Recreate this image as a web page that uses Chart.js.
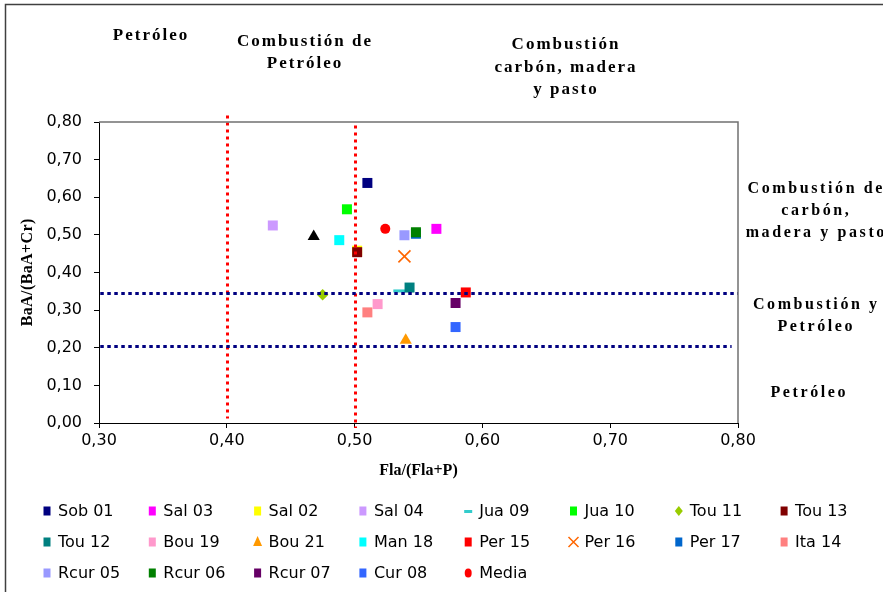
<!DOCTYPE html>
<html>
<head>
<meta charset="utf-8">
<script src="https://cdn.jsdelivr.net/npm/chart.js@4.4.1/dist/chart.umd.min.js"></script>
<style>
  html, body { margin: 0; padding: 0; background: #ffffff; }
  #wrap { width: 883px; height: 592px; position: relative; }
  canvas { display: block; }
</style>
</head>
<body>
<div id="wrap"><canvas id="chart" width="883" height="592"></canvas></div>
<script>
// Sample names in legend order
const sampleNames = ['Sob 01', 'Sal 03', 'Sal 02', 'Sal 04', 'Jua 09', 'Jua 10', 'Tou 11', 'Tou 13',
                     'Tou 12', 'Bou 19', 'Bou 21', 'Man 18', 'Per 15', 'Per 16', 'Per 17', 'Ita 14',
                     'Rcur 05', 'Rcur 06', 'Rcur 07', 'Cur 08', 'Media'];
// Fla/(Fla+P) for each sample
const flaRatio = [0.510, 0.564, 0.502, 0.436, 0.535, 0.494, 0.475, 0.502,
                  0.543, 0.518, 0.540, 0.488, 0.587, 0.539, 0.548, 0.510,
                  0.539, 0.548, 0.579, 0.579, 0.524];
// BaA/(BaA+Cr) for each sample
const baaRatio = [0.638, 0.516, 0.458, 0.525, 0.351, 0.568, 0.341, 0.454,
                  0.360, 0.316, 0.220, 0.486, 0.347, 0.443, 0.503, 0.294,
                  0.499, 0.507, 0.319, 0.255, 0.516];
// Extra point plotted without a legend entry
const extraFla = [0.468];
const extraBaa = [0.496];

// Diagnostic limits
const flaLimits = [0.40, 0.50];
const baaLimits = [0.345, 0.205];

// Axis tick labels
const xTickLabels = ['0,30', '0,40', '0,50', '0,60', '0,70', '0,80'];
const yTickLabels = ['0,00', '0,10', '0,20', '0,30', '0,40', '0,50', '0,60', '0,70', '0,80'];

// Marker look per sample
const sampleColors = ['#000080', '#FF00FF', '#FFFF00', '#CC99FF', '#33CCCC', '#00FF00', '#99CC00', '#800000',
                      '#008080', '#FF99CC', '#FF9900', '#00FFFF', '#FF0000', '#FF6600', '#0066CC', '#FF8080',
                      '#9999FF', '#008000', '#660066', '#3366FF', '#FF0000'];
const sampleShapes = ['rect', 'rect', 'rect', 'rect', 'line', 'rect', 'rectRot', 'rect',
                      'rect', 'rect', 'triangle', 'rect', 'rect', 'crossRot', 'rect', 'rect',
                      'rect', 'rect', 'rect', 'rect', 'circle'];

const shapeRadius = { rect: 7.07, line: 6, rectRot: 5.8, triangle: 7, crossRot: 8.5, circle: 5 };

const datasets = sampleNames.map((name, i) => {
  const shape = sampleShapes[i];
  const stroked = (shape === 'line' || shape === 'crossRot');
  return {
    label: name,
    data: [{ x: flaRatio[i], y: baaRatio[i] }],
    pointStyle: shape,
    pointRadius: shapeRadius[shape],
    backgroundColor: sampleColors[i],
    borderColor: sampleColors[i],
    borderWidth: shape === 'line' ? 3 : (stroked ? 1.6 : 0),
    showLine: false,
    order: -i
  };
});
datasets.push({
  label: '',
  data: extraFla.map((v, i) => ({ x: v, y: extraBaa[i] })),
  pointStyle: 'triangle',
  pointRadius: 7,
  backgroundColor: '#000000',
  borderColor: '#000000',
  borderWidth: 0,
  showLine: false,
  order: -100
});

const serif = '"Liberation Serif", "Times New Roman", serif';
const sans = '"DejaVu Sans", Verdana, sans-serif';

function drawSpaced(ctx, text, x, y, spacing) {
  if ('letterSpacing' in ctx) {
    ctx.letterSpacing = spacing + 'px';
    ctx.fillText(text, x + spacing / 2, y);
    ctx.letterSpacing = '0px';
  } else {
    ctx.fillText(text, x, y);
  }
}

// Zone captions around the plot
const zoneCaptions = [
  { lines: ['Petróleo'], x: 150, y: 36, lh: 22, size: 17, sp: 2.0 },
  { lines: ['Combustión de', 'Petróleo'], x: 304, y: 42, lh: 22, size: 17, sp: 2.0 },
  { lines: ['Combustión', 'carbón, madera', 'y pasto'], x: 565, y: 45, lh: 22.5, size: 17, sp: 2.0 },
  { lines: ['Combustión de', 'carbón,', 'madera y pasto'], x: 815, y: 189, lh: 22, size: 16, sp: 2.6 },
  { lines: ['Combustión y', 'Petróleo'], x: 815, y: 305, lh: 22, size: 16, sp: 2.6 },
  { lines: ['Petróleo'], x: 808, y: 393, lh: 22, size: 16, sp: 2.6 }
];

function drawLegendMarker(ctx, shape, color, x, y) {
  ctx.save();
  ctx.fillStyle = color;
  ctx.strokeStyle = color;
  ctx.beginPath();
  if (shape === 'rect') {
    ctx.fillRect(x - 3.5, y - 4.5, 7, 9);
  } else if (shape === 'line') {
    ctx.fillRect(x - 4, y - 1, 8, 3);
  } else if (shape === 'rectRot') {
    ctx.moveTo(x, y - 5); ctx.lineTo(x + 4, y); ctx.lineTo(x, y + 5); ctx.lineTo(x - 4, y);
    ctx.closePath(); ctx.fill();
  } else if (shape === 'triangle') {
    ctx.moveTo(x, y - 6); ctx.lineTo(x + 4.5, y + 4); ctx.lineTo(x - 4.5, y + 4);
    ctx.closePath(); ctx.fill();
  } else if (shape === 'crossRot') {
    ctx.lineWidth = 1.5;
    ctx.moveTo(x - 5, y - 5); ctx.lineTo(x + 5, y + 5);
    ctx.moveTo(x + 5, y - 5); ctx.lineTo(x - 5, y + 5);
    ctx.stroke();
  } else if (shape === 'circle') {
    ctx.ellipse(x, y, 3.5, 4.5, 0, 0, Math.PI * 2);
    ctx.fill();
  }
  ctx.restore();
}

const decorPlugin = {
  id: 'decor',
  beforeDraw(chart) {
    const ctx = chart.ctx;
    ctx.save();
    ctx.fillStyle = '#ffffff';
    ctx.fillRect(0, 0, chart.width, chart.height);
    // outer frame
    ctx.strokeStyle = '#404040';
    ctx.lineWidth = 1.5;
    ctx.beginPath();
    ctx.moveTo(5.5, chart.height + 2);
    ctx.lineTo(5.5, 4.5);
    ctx.lineTo(chart.width + 2, 4.5);
    ctx.stroke();
    ctx.restore();
  },
  afterDatasetsDraw(chart) {
    const ctx = chart.ctx;
    const xs = chart.scales.x, ys = chart.scales.y;
    ctx.save();
    // vertical limits on Fla/(Fla+P)
    ctx.strokeStyle = '#FF0000';
    ctx.lineWidth = 3;
    ctx.setLineDash([3, 4]);
    const vExt = [[0.817, 0.012], [0.791, -0.013]];
    flaLimits.forEach((v, i) => {
      const px = Math.round(xs.getPixelForValue(v)) + 0.5;
      ctx.beginPath();
      ctx.moveTo(px, ys.getPixelForValue(vExt[i][0]));
      ctx.lineTo(px, ys.getPixelForValue(vExt[i][1]));
      ctx.stroke();
    });
    // horizontal limits on BaA/(BaA+Cr)
    ctx.strokeStyle = '#000080';
    ctx.setLineDash([3.5, 3.5]);
    const hExt = [[0.301, 0.80], [0.301, 0.795]];
    baaLimits.forEach((v, i) => {
      const py = Math.round(ys.getPixelForValue(v)) + 0.5;
      ctx.beginPath();
      ctx.moveTo(xs.getPixelForValue(hExt[i][0]), py);
      ctx.lineTo(xs.getPixelForValue(hExt[i][1]), py);
      ctx.stroke();
    });
    ctx.restore();
  },
  afterDraw(chart) {
    const ctx = chart.ctx;
    const a = chart.chartArea;
    ctx.save();
    // plot area top and right edges
    ctx.strokeStyle = '#707070';
    ctx.lineWidth = 1.5;
    ctx.beginPath();
    ctx.moveTo(a.left, a.top);
    ctx.lineTo(a.right, a.top);
    ctx.lineTo(a.right, a.bottom);
    ctx.stroke();

    // axis titles
    ctx.fillStyle = '#000000';
    ctx.font = 'bold 16px ' + serif;
    ctx.textAlign = 'center';
    ctx.textBaseline = 'middle';
    ctx.fillText('Fla/(Fla+P)', (a.left + a.right) / 2, 471);
    ctx.save();
    ctx.translate(28, (a.top + a.bottom) / 2);
    ctx.rotate(-Math.PI / 2);
    drawSpaced(ctx, 'BaA/(BaA+Cr)', 0, 0, 0.4);
    ctx.restore();

    // zone captions
    zoneCaptions.forEach(c => {
      ctx.font = 'bold ' + c.size + 'px ' + serif;
      c.lines.forEach((t, k) => drawSpaced(ctx, t, c.x, c.y + k * c.lh, c.sp));
    });

    // legend grid
    ctx.font = '16px ' + sans;
    ctx.textAlign = 'left';
    ctx.textBaseline = 'middle';
    const colX0 = 47, colStep = 105.3, rowY0 = 511, rowStep = 31, perRow = 8;
    sampleNames.forEach((name, i) => {
      const col = i % perRow, row = Math.floor(i / perRow);
      const mx = colX0 + col * colStep, my = rowY0 + row * rowStep;
      drawLegendMarker(ctx, sampleShapes[i], sampleColors[i], mx, my);
      ctx.fillStyle = '#000000';
      ctx.fillText(name, mx + 11, my + 1);
    });
    ctx.restore();
  }
};

new Chart(document.getElementById('chart'), {
  type: 'scatter',
  data: { datasets },
  options: {
    responsive: false,
    animation: false,
    devicePixelRatio: 1,
    events: [],
    layout: { padding: { left: 0, right: 145, top: 122, bottom: 0 } },
    plugins: { legend: { display: false }, tooltip: { enabled: false } },
    scales: {
      x: {
        type: 'linear',
        min: 0.30, max: 0.80,
        afterFit: s => { s.height = 169; },
        afterBuildTicks: s => { s.ticks = xTickLabels.map((_, i) => ({ value: 0.30 + i * 0.10 })); },
        ticks: {
          callback: (v, i) => xTickLabels[i],
          color: '#000000',
          font: { family: sans, size: 16 },
          padding: 3,
          maxRotation: 0,
          autoSkip: false
        },
        grid: { display: true, drawOnChartArea: false, drawTicks: true, tickLength: 5, color: '#000000' },
        border: { display: true, color: '#000000', width: 1 }
      },
      y: {
        type: 'linear',
        min: 0, max: 0.80,
        afterFit: s => { s.width = 99; },
        afterBuildTicks: s => { s.ticks = yTickLabels.map((_, i) => ({ value: i * 0.10 })); },
        ticks: {
          callback: (v, i) => yTickLabels[i],
          color: '#000000',
          font: { family: sans, size: 16 },
          padding: 12,
          autoSkip: false
        },
        grid: { display: true, drawOnChartArea: false, drawTicks: true, tickLength: 5, color: '#000000' },
        border: { display: true, color: '#000000', width: 1 }
      }
    }
  },
  plugins: [decorPlugin]
});
</script>
</body>
</html>
